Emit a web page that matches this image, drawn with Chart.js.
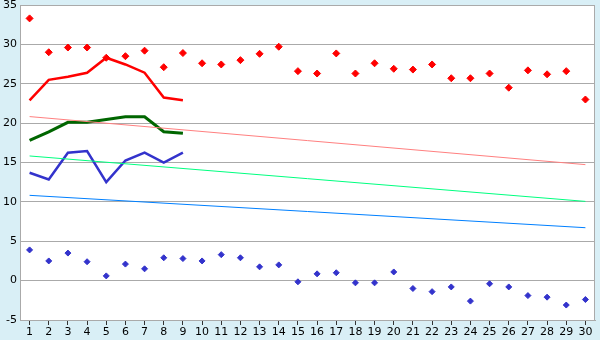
<!DOCTYPE html>
<html>
<head>
<meta charset="utf-8">
<script src="https://cdn.jsdelivr.net/npm/chart.js@4.4.1/dist/chart.umd.min.js"></script>
<style>
  body { margin: 0; background: #d9eff6; }
  #wrap { width: 600px; height: 340px; }
</style>
</head>
<body>
<div id="wrap"><canvas id="grafico"></canvas></div>
<script>
const dias = ["1","2","3","4","5","6","7","8","9","10","11","12","13","14","15",
              "16","17","18","19","20","21","22","23","24","25","26","27","28","29","30"];

// pontos (máximas e mínimas)
const maximas = [33.3, 29.0, 29.6, 29.6, 28.3, 28.5, 29.2, 27.1, 28.9, 27.6,
                 27.45, 28.0, 28.8, 29.7, 26.6, 26.3, 28.85, 26.3, 27.6, 26.9,
                 26.8, 27.45, 25.7, 25.7, 26.3, 24.5, 26.7, 26.2, 26.6, 23.0];
const minimas = [3.9, 2.5, 3.5, 2.4, 0.6, 2.1, 1.5, 2.9, 2.8, 2.5,
                 3.3, 2.9, 1.75, 2.0, -0.15, 0.86, 1.0, -0.28, -0.28, 1.1,
                 -1.0, -1.4, -0.8, -2.6, -0.4, -0.8, -1.9, -2.1, -3.1, -2.4];

// linhas do mês corrente (dias 1 a 9)
const linhaVermelha = [22.9, 25.5, 25.9, 26.4, 28.3, 27.45, 26.4, 23.25, 22.9];
const linhaVerde = [17.8, 18.9, 20.1, 20.1, 20.45, 20.8, 20.8, 18.9, 18.7];
const linhaAzul = [13.7, 12.85, 16.25, 16.45, 12.5, 15.25, 16.25, 15.0, 16.25];

// tendências (início, fim)
const tendVermelha = [20.83, 14.73];
const tendVerde = [15.83, 10.06];
const tendAzul = [10.83, 6.72];

const yTicks = [35, 30, 25, 20, 15, 10, 5, 0, -5];

function tend(vals) {
    return [{ x: dias[0], y: vals[0] }, { x: dias[dias.length - 1], y: vals[1] }];
}

const moldura = {
    id: "moldura",
    beforeDraw(chart) {
        const a = chart.chartArea, c = chart.ctx;
        c.save();
        c.fillStyle = "#ffffff";
        c.fillRect(a.left, a.top, a.right - a.left, a.bottom - a.top);
        c.restore();
    },
    afterDraw(chart) {
        const a = chart.chartArea, c = chart.ctx;
        c.save();
        c.strokeStyle = "#aaaaaa";
        c.lineWidth = 1;
        c.strokeRect(a.left + 0.5, a.top + 0.5, a.right - a.left - 1, a.bottom - a.top);
        c.restore();
    }
};

const ctx = document.getElementById("grafico");

new Chart(ctx, {
    type: "line",
    data: {
        labels: dias,
        datasets: [
            { data: tend(tendVermelha), borderColor: "#ff8080", borderWidth: 1, pointRadius: 0 },
            { data: tend(tendVerde), borderColor: "#00ff80", borderWidth: 1, pointRadius: 0 },
            { data: tend(tendAzul), borderColor: "#0080ff", borderWidth: 1, pointRadius: 0 },
            { data: linhaVermelha, borderColor: "#ff0000", borderWidth: 2.5, pointRadius: 0 },
            { data: linhaVerde, borderColor: "#006600", borderWidth: 3, pointRadius: 0 },
            { data: linhaAzul, borderColor: "#3333cc", borderWidth: 2.5, pointRadius: 0 },
            {
                data: maximas, showLine: false, pointStyle: "rectRot", pointRadius: 3.5,
                backgroundColor: "#ff0000", borderColor: "#ff0000", borderWidth: 1
            },
            {
                data: minimas, showLine: false, pointStyle: "rectRot", pointRadius: 3,
                backgroundColor: "#3333cc", borderColor: "#3333cc", borderWidth: 1
            }
        ]
    },
    options: {
        responsive: true,
        maintainAspectRatio: false,
        animation: false,
        layout: { padding: { top: 5, right: 5, left: 0, bottom: 0 } },
        plugins: { legend: { display: false }, tooltip: { enabled: false } },
        elements: { line: { tension: 0 } },
        scales: {
            x: {
                offset: true,
                grid: { drawOnChartArea: false, drawTicks: true, tickLength: 5, color: "#333333" },
                border: { color: "#aaaaaa" },
                ticks: { color: "#000000", font: { family: "DejaVu Sans", size: 11 }, padding: 1, maxRotation: 0, autoSkip: false },
                afterFit(scale) { scale.height = 20; }
            },
            y: {
                min: -5,
                max: 35,
                afterBuildTicks(scale) { scale.ticks = yTicks.map(v => ({ value: v })); },
                grid: { color: "#aaaaaa", drawTicks: false },
                border: { color: "#aaaaaa" },
                ticks: { color: "#000000", font: { family: "DejaVu Sans", size: 11 }, padding: 3 },
                afterFit(scale) {
                    scale.width = 20;
                    scale.paddingTop = 0;
                    scale.paddingBottom = 0;
                }
            }
        }
    },
    plugins: [moldura]
});
</script>
</body>
</html>
